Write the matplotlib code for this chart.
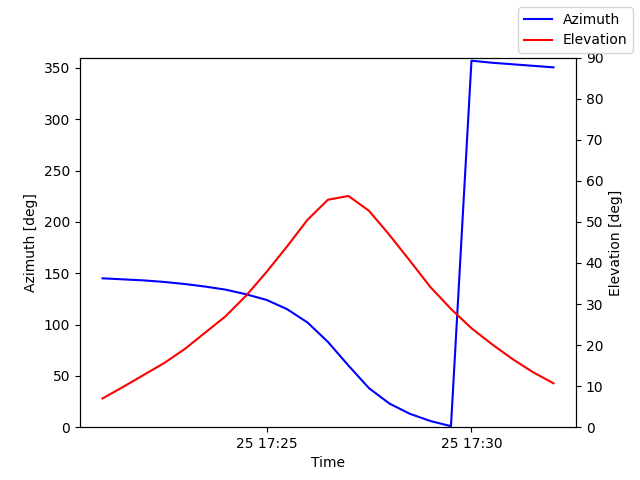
import matplotlib
matplotlib.use("Agg")
import matplotlib.pyplot as plt
import matplotlib.dates as mdates
import pandas as pd

times = pd.date_range("2024-01-25 17:21:00", "2024-01-25 17:32:00", freq="30s")
azimuth = [145, 144, 143, 141.5, 139.5, 137, 134, 129.5, 124, 115, 102, 83, 60, 38, 23, 13, 6, 1,
           357, 355, 353.5, 352, 350.5]
elevation = [7, 9.8, 12.7, 15.6, 19, 23, 27, 32, 37.8, 44, 50.5, 55.4, 56.3, 52.7, 46.8, 40.5,
             34.1, 28.8, 24.1, 20.2, 16.6, 13.4, 10.7]

fig, ax = plt.subplots(figsize=(6.4, 4.8), dpi=100)
l1, = ax.plot(times, azimuth, color="blue", label="Azimuth")
ax.set_ylim(0, 360)
ax.set_ylabel("Azimuth [deg]")
ax.set_xlabel("Time")
ax2 = ax.twinx()
l2, = ax2.plot(times, elevation, color="red", label="Elevation")
ax2.set_ylim(0, 90)
ax2.set_ylabel("Elevation [deg]")
ax.xaxis.set_major_locator(mdates.MinuteLocator(byminute=[25, 30]))
ax.xaxis.set_major_formatter(mdates.DateFormatter("%d %H:%M"))
fig.legend(handles=[l1, l2], loc="upper right")
fig.savefig("out.png")
